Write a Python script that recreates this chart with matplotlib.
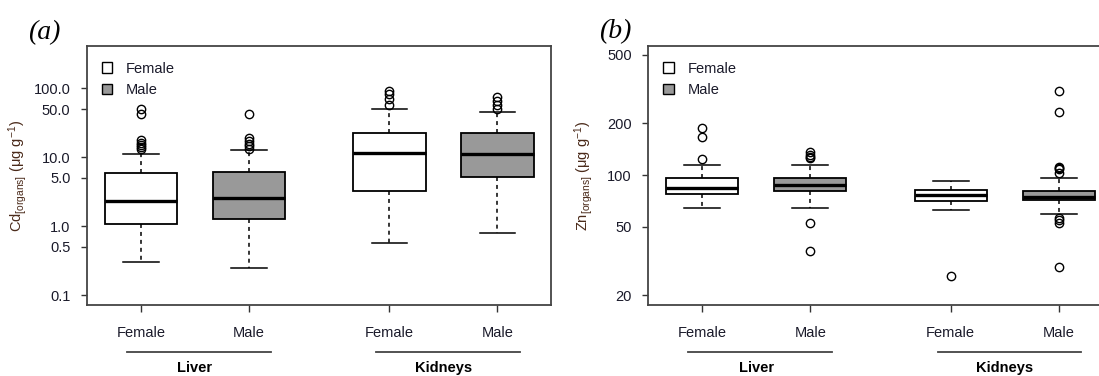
import numpy as np
import matplotlib.pyplot as plt
from matplotlib.patches import Patch
from matplotlib.transforms import blended_transform_factory

plt.rcParams['font.family'] = ['Liberation Sans', 'DejaVu Sans']
plt.rcParams['mathtext.fontset'] = 'custom'
plt.rcParams['mathtext.rm'] = 'Liberation Sans'
plt.rcParams['mathtext.it'] = 'Liberation Sans:italic'

# box positions: Liver Female, Liver Male, Kidneys Female, Kidneys Male
positions = [1, 2, 3.3, 4.3]
sex_labels = ['Female', 'Male', 'Female', 'Male']
fills = ['white', '#999999', 'white', '#999999']
groups = ['Liver', 'Kidneys']
group_centers = [1.5, 3.8]
group_lines = [(0.87, 2.2), (3.18, 4.51)]

# (a) Cd in organs (ug/g)
cd_whislo = [0.30, 0.247, 0.56, 0.80]
cd_q1 = [1.06, 1.26, 3.27, 5.2]
cd_med = [2.34, 2.58, 11.4, 11.0]
cd_q3 = [5.96, 6.1, 22.2, 22.2]
cd_whishi = [11.2, 12.8, 50.1, 44.9]
cd_fliers = [
    [43, 50, 13.3, 14.1, 15.0, 16.2, 17.5],
    [42.4, 13.3, 14.5, 15.8, 17.2, 18.8],
    [57, 70, 82, 90],
    [50, 58, 66, 75],
]
cd_ticks = [0.1, 0.5, 1, 5, 10, 50, 100]
cd_ticklabels = ['0.1', '0.5', '1.0', '5.0', '10.0', '50.0', '100.0']

# (b) Zn in organs (ug/g)
zn_whislo = [64.5, 64.5, 62.5, 59.5]
zn_q1 = [77.2, 80.7, 70.3, 71.2]
zn_med = [84.3, 87.4, 76.1, 74.8]
zn_q3 = [96.4, 96.4, 81.8, 80.7]
zn_whishi = [113.8, 113.8, 92.7, 96.4]
zn_fliers = [
    [124.4, 165.6, 188.6],
    [52.3, 36.2, 125, 128, 131, 136],
    [25.9],
    [308, 234, 103, 108, 110, 112, 52.5, 55, 56, 29.2],
]
zn_ticks = [20, 50, 100, 200, 500]
zn_ticklabels = ['20', '50', '100', '200', '500']

fig = plt.figure(figsize=(10.99, 3.76), dpi=100)
W, H = 1099, 376
ax_a = fig.add_axes([87 / W, 71 / H, 464.4 / W, 259 / H])
ax_b = fig.add_axes([648.3 / W, 71 / H, 464.4 / W, 259 / H])


def draw_panel(ax, whislo, q1, med, q3, whishi, fliers, ylim, ticks, ticklabels, ylabel, label_x):
    stats = []
    for i in range(len(positions)):
        stats.append(dict(whislo=whislo[i], q1=q1[i], med=med[i], q3=q3[i],
                          whishi=whishi[i], fliers=fliers[i]))
    bp = ax.bxp(stats, positions=positions, widths=0.67, patch_artist=True,
                boxprops=dict(edgecolor='black', linewidth=1.3),
                medianprops=dict(color='black', linewidth=2.4),
                whiskerprops=dict(color='black', linewidth=1.1, linestyle=(0, (2.6, 2.6))),
                capprops=dict(color='black', linewidth=1.1),
                capwidths=0.33,
                flierprops=dict(marker='o', markersize=6, markerfacecolor='none',
                                markeredgecolor='black', markeredgewidth=1.0))
    for patch, c in zip(bp['boxes'], fills):
        patch.set_facecolor(c)
    ax.set_yscale('log')
    ax.set_ylim(*ylim)
    ax.set_xlim(0.5, 4.8)
    ax.set_yticks(ticks)
    ax.set_yticklabels(ticklabels)
    ax.yaxis.set_minor_locator(plt.NullLocator())
    ax.set_xticks(positions)
    ax.set_xticklabels(sex_labels)
    ax.tick_params(axis='y', length=4.5, width=1, pad=7.5, labelsize=10.5, colors='#333333',
                   labelcolor='#1a1a2a')
    ax.tick_params(axis='x', length=5, width=1, pad=10, labelsize=10.5, colors='#333333',
                   labelcolor='#1a1a2a')
    for s in ax.spines.values():
        s.set_color('#444444')
        s.set_linewidth(1.3)
    ax.set_ylabel(ylabel, fontsize=10.5, color='#4a2a1a')
    ax.yaxis.set_label_coords(label_x, 0.5)

    trans = blended_transform_factory(ax.transData, ax.transAxes)
    for g, c, (x0, x1) in zip(groups, group_centers, group_lines):
        ax.plot([x0, x1], [-0.183, -0.183], transform=trans, color='#444444',
                linewidth=1.3, clip_on=False)
        ax.text(c, -0.245, g, transform=trans, ha='center', va='center',
                fontsize=10.5, fontweight='bold', color='black')

    handles = [Patch(facecolor='white', edgecolor='black', linewidth=1.0, label='Female'),
               Patch(facecolor='#999999', edgecolor='black', linewidth=1.0, label='Male')]
    ax.legend(handles=handles, loc='upper left', bbox_to_anchor=(0.032, 0.94),
              frameon=False, fontsize=10.5, handlelength=0.72, handleheight=0.72,
              handletextpad=0.95, labelspacing=0.5, borderpad=0, borderaxespad=0,
              labelcolor='#1a1a2a')


draw_panel(ax_a, cd_whislo, cd_q1, cd_med, cd_q3, cd_whishi, cd_fliers,
           (0.0716, 411), cd_ticks, cd_ticklabels,
           r'Cd$_{\mathregular{[organs]}}$ ($\mathregular{\mu}$g g$^{\mathregular{-1}}$)', -0.125)
draw_panel(ax_b, zn_whislo, zn_q1, zn_med, zn_q3, zn_whishi, zn_fliers,
           (17.5, 564), zn_ticks, zn_ticklabels,
           r'Zn$_{\mathregular{[organs]}}$ ($\mathregular{\mu}$g g$^{\mathregular{-1}}$)', -0.115)

fig.text(44 / W, 1 - 33 / H, '(a)', fontsize=20, fontstyle='italic',
         family='Liberation Serif', ha='center', va='center')
fig.text(615 / W, 1 - 32 / H, '(b)', fontsize=20, fontstyle='italic',
         family='Liberation Serif', ha='center', va='center')

fig.savefig('out.png', dpi=100)
